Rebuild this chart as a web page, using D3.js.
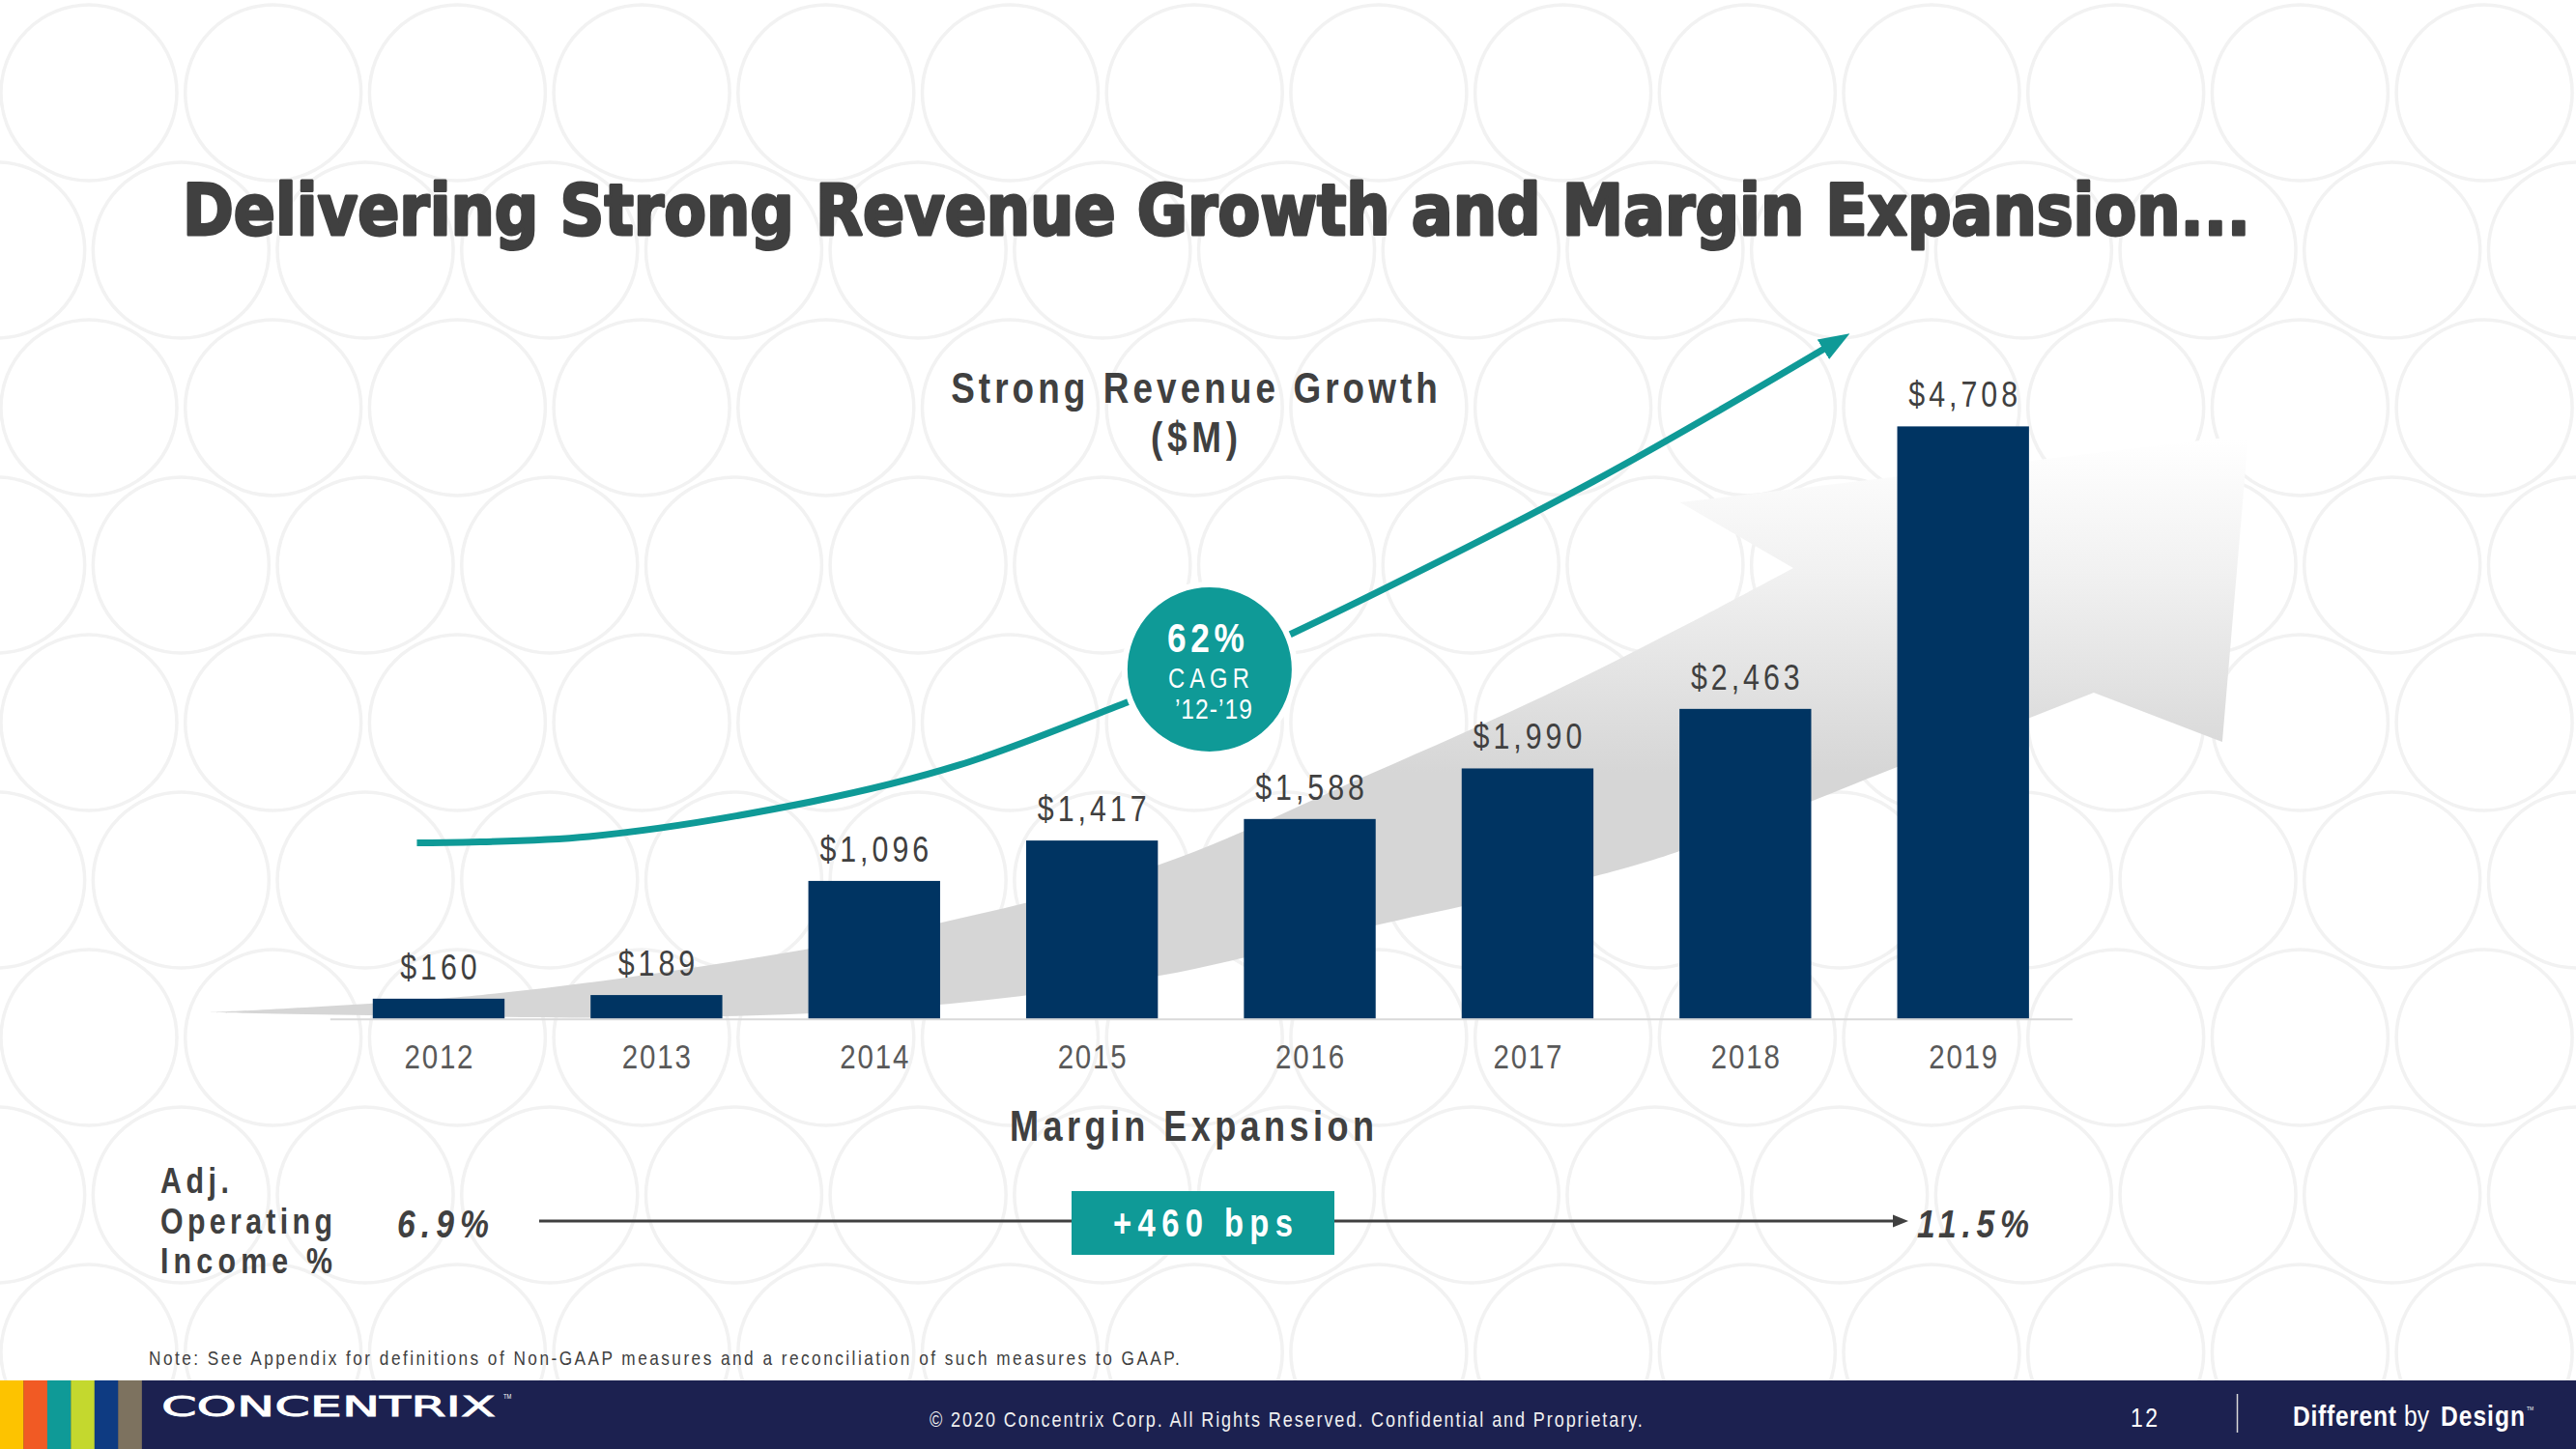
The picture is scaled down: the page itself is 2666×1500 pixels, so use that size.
<!DOCTYPE html>
<html><head><meta charset="utf-8">
<script src="https://cdn.jsdelivr.net/npm/d3@7"></script>
<style>html,body{margin:0;padding:0;background:#fff;overflow:hidden}svg{display:block}</style>
</head><body>
<svg id="c" width="2666" height="1500"></svg>
<script>
// ---------- data ----------
const years = ["2012","2013","2014","2015","2016","2017","2018","2019"];
const revenue = [160, 189, 1096, 1417, 1588, 1990, 2463, 4708];
const valueLabels = ["$160","$189","$1,096","$1,417","$1,588","$1,990","$2,463","$4,708"];
const pageTitle = "Delivering Strong Revenue Growth and Margin Expansion...";
const chartTitle = ["Strong Revenue Growth", "($M)"];
const cagrText = ["62%", "CAGR", "\u201912-\u201919"];
const marginTitle = "Margin Expansion";
const marginLabel = ["Adj.", "Operating", "Income %"];
const marginStart = 6.9, marginEnd = 11.5;
const noteText = "Note:  See Appendix for definitions of Non-GAAP measures and a reconciliation of such measures to GAAP.";
const footerText = "\u00A9 2020 Concentrix Corp. All Rights Reserved. Confidential and Proprietary.";
const pageNumber = "12";
// trend arrow, in data coordinates: [year index, $M]
const trendPoints = [[-0.10,1398],[0.69,1449],[1.71,1725],[2.39,2017],[3.15,2508],[3.54,2777],[3.91,3055],[5.30,4269],[6.48,5444]];
const cagrAnchorIndex = 5;
// background swoosh arrow outline, data coordinates [year index, $M]
const swooshUpper = [[-1.05,51],[0.20,190],[1.36,459],[2.31,766],[3.31,1226],[4.29,1955],[5.08,2569],[5.70,3106],[6.22,3583]];
const swooshHead = [[5.70,4104],[8.31,4641],[8.19,2200],[7.60,2592]];
const swooshLower = [[7.31,2394],[6.70,2003],[6.30,1727],[5.70,1334],[5.31,1134],[4.30,743],[3.31,343],[2.20,97],[1.09,13],[-1.05,51]];

// ---------- setup ----------
const W = 2666, H = 1500;
const svg = d3.select("#c");
const TEAL = "#0f9a97", NAVY = "#003462", DARK = "#404040";

function hasFont(name){
  const t = svg.append("text").attr("font-size",50).attr("font-family",`'${name}', monospace`).text("abcdefghijklmnop0123456789");
  const w1 = t.node().getComputedTextLength();
  t.attr("font-family","monospace");
  const w2 = t.node().getComputedTextLength();
  t.remove();
  return Math.abs(w1-w2) > 1;
}
const HAS_NARROW = hasFont("Liberation Sans Narrow");

function styleText(node, o){
  const s = d3.select(node);
  let fam, sx = 1;
  if (!o.family || o.family === "narrow"){
    if (HAS_NARROW) fam = "'Liberation Sans Narrow'"; else { fam = "'Liberation Sans'"; sx = 0.82; }
  } else fam = o.family;
  s.attr("font-family", fam).attr("font-size", o.size).attr("font-weight", o.weight||400)
   .attr("font-style", o.style||"normal").attr("fill", o.fill||DARK)
   .attr("text-anchor", o.anchor||"start").attr("letter-spacing", 0)
   .attr("x",0).attr("y",0).attr("dy",null);
  const n = s.text().length;
  let ls;
  if (o.width != null){ const nat = node.getComputedTextLength(); ls = (o.width/sx - nat)/Math.max(1,n-1); }
  else ls = (o.ls||0)/sx;
  s.attr("letter-spacing", ls);
  const a = o.anchor||"start";
  let shift = 0;
  if (a === "middle") shift = ls/2*sx; else if (a === "end") shift = ls*sx;
  s.attr("transform", `translate(${o.x+shift},${o.y}) scale(${sx},1)`);
  return s;
}
function label(parent, str, o){
  const t = parent.append("text").text(str);
  return styleText(t.node(), o);
}

// ---------- background pattern ----------
const bg = svg.append("g").attr("fill","none").attr("stroke","#f2f2f2").attr("stroke-width",3.5);
for (let r = 0; r < 9; r++){
  for (let k = -1; k < 15; k++){
    bg.append("circle").attr("cx", 92 + (r%2 ? 95.35 : 0) + k*190.7).attr("cy", 96 + r*163).attr("r", 91);
  }
}

// ---------- scales ----------
const x = d3.scaleBand().domain(years).range([341.3, 2144.4]).paddingInner(0.395).paddingOuter(0.1975);
const y = d3.scaleLinear().domain([0, 4708]).range([1054.7, 441.4]);
const xi = i => x(years[0]) + x.bandwidth()/2 + i*x.step();
const P = d => [xi(d[0]), y(d[1])];

// ---------- swoosh ----------
const defs = svg.append("defs");
const grad = defs.append("linearGradient").attr("id","sw").attr("gradientUnits","userSpaceOnUse")
  .attr("x1",0).attr("y1",455).attr("x2",0).attr("y2",800);
grad.append("stop").attr("offset",0).attr("stop-color","#ffffff");
grad.append("stop").attr("offset",0.4).attr("stop-color","#f1f1f1");
grad.append("stop").attr("offset",1).attr("stop-color","#d6d6d6");
const cr = d3.line().curve(d3.curveCatmullRom.alpha(0.5));
let dStr = cr(swooshUpper.map(P));
swooshHead.map(P).forEach(p => { dStr += `L${p[0]},${p[1]}`; });
dStr += cr(swooshLower.map(P)).replace(/^M/,"L") + "Z";
svg.append("path").attr("d", dStr).attr("fill","url(#sw)");

// ---------- bars ----------
svg.append("g").selectAll("rect").data(revenue).join("rect")
  .attr("x",(d,i)=>x(years[i])).attr("width",x.bandwidth())
  .attr("y",d=>y(d)).attr("height",d=>y(0)-y(d)).attr("fill",NAVY);

// axis
const ax = svg.append("g").attr("transform",`translate(0,${y(0)})`)
  .call(d3.axisBottom(x).tickSize(0).tickPadding(0));
ax.select(".domain").attr("stroke","#d9d9d9").attr("stroke-width",2);
ax.selectAll(".tick text").each(function(){
  styleText(this,{x:0,y:51,size:36,ls:1.8,anchor:"middle",fill:"#595959"});
});

// value labels
const vl = svg.append("g");
revenue.forEach((v,i)=>{
  label(vl, valueLabels[i], {x:x(years[i])+x.bandwidth()/2, y:y(v)-20, size:37, ls:4, anchor:"middle"});
});

// ---------- trend arrow ----------
const tp = trendPoints.map(P);
const pA = tp[tp.length-2], pB = tp[tp.length-1];
const len = Math.hypot(pB[0]-pA[0], pB[1]-pA[1]);
const ux = (pB[0]-pA[0])/len, uy = (pB[1]-pA[1])/len;
const tpShort = tp.slice(0,-1).concat([[pB[0]-16*ux, pB[1]-16*uy]]);
defs.append("marker").attr("id","ah").attr("markerUnits","userSpaceOnUse")
  .attr("viewBox","-16 -13 32 26").attr("refX",0).attr("refY",0)
  .attr("markerWidth",32).attr("markerHeight",26).attr("orient","auto")
  .append("path").attr("d","M16,0L-16,-12L-16,12Z").attr("fill",TEAL);
svg.append("path").attr("d", d3.line().curve(d3.curveCatmullRom.alpha(0.5))(tpShort))
  .attr("fill","none").attr("stroke",TEAL).attr("stroke-width",7).attr("marker-end","url(#ah)");

// CAGR bubble
const cc = tp[cagrAnchorIndex];
svg.append("circle").attr("cx",cc[0]).attr("cy",cc[1]).attr("r",88).attr("fill",TEAL).attr("stroke","#fff").attr("stroke-width",6);
const cg = svg.append("g");
label(cg, cagrText[0], {x:cc[0]-4, y:cc[1]-18, size:43, weight:700, width:80, anchor:"middle", fill:"#fff"});
label(cg, cagrText[1], {x:cc[0]-1, y:cc[1]+19, size:29, width:84, anchor:"middle", fill:"#fff"});
label(cg, cagrText[2], {x:cc[0]+4, y:cc[1]+51, size:30, width:80, anchor:"middle", fill:"#fff"});

// ---------- titles ----------
svg.append("text").attr("x",189).attr("y",243).attr("font-family","'DejaVu Sans', 'Liberation Sans', sans-serif")
  .attr("font-weight",700).attr("font-size",73).attr("fill",DARK)
  .attr("stroke",DARK).attr("stroke-width",3).attr("stroke-linejoin","round")
  .attr("textLength",2140).attr("lengthAdjust","spacingAndGlyphs").text(pageTitle);
label(svg, chartTitle[0], {x:1236, y:417, size:45, weight:700, width:504, anchor:"middle"});
label(svg, chartTitle[1], {x:1236, y:468, size:45, weight:700, width:90, anchor:"middle"});

// ---------- margin expansion ----------
label(svg, marginTitle, {x:1233.5, y:1181, size:44, weight:700, width:377, anchor:"middle"});
const mlW = [71,178,178];
marginLabel.forEach((t,i)=> label(svg, t, {x:166, y:1235+i*41.5, size:37, weight:700, width:mlW[i]}));
defs.append("marker").attr("id","ah2").attr("markerUnits","userSpaceOnUse")
  .attr("viewBox","-8 -7 16 14").attr("refX",0).attr("refY",0)
  .attr("markerWidth",16).attr("markerHeight",14).attr("orient","auto")
  .append("path").attr("d","M8,0L-8,-6.5L-8,6.5Z").attr("fill",DARK);
svg.append("line").attr("x1",558).attr("x2",1967).attr("y1",1264).attr("y2",1264)
  .attr("stroke",DARK).attr("stroke-width",3.2).attr("marker-end","url(#ah2)");
const fmt = d3.format(".1f");
label(svg, fmt(marginStart)+"%", {x:411, y:1281, size:41, weight:700, style:"italic", width:95});
label(svg, fmt(marginEnd)+"%", {x:1984, y:1281, size:41, weight:700, style:"italic", width:116});
svg.append("rect").attr("x",1109).attr("y",1233).attr("width",272).attr("height",66).attr("fill",TEAL);
label(svg, "+" + Math.round((marginEnd-marginStart)*100) + " bps", {x:1245, y:1280, size:40, weight:700, width:186, anchor:"middle", fill:"#fff"});

// note
label(svg, noteText, {x:154, y:1413, size:21, width:1070});

// ---------- footer ----------
svg.append("rect").attr("x",0).attr("y",1429).attr("width",W).attr("height",H-1429).attr("fill","#1c2150");
const stripes = ["#fdc300","#f15a24","#0f9a97","#c4d82e","#0e3b82","#7d725f"];
stripes.forEach((c,i)=> svg.append("rect").attr("x",i*24.45).attr("y",1429).attr("width",24.6).attr("height",H-1429).attr("fill",c));
svg.append("text").attr("x",167).attr("y",1466).attr("font-family","'DejaVu Sans', sans-serif")
  .attr("font-size",29).attr("fill","#fff").attr("stroke","#fff").attr("stroke-width",0.8)
  .attr("textLength",346).attr("lengthAdjust","spacingAndGlyphs").text("CONCENTRIX");
label(svg, "TM", {x:521, y:1448, size:7, fill:"#fff"});
label(svg, footerText, {x:962, y:1477, size:22, width:738, fill:"#f0f0f0"});
label(svg, pageNumber, {x:2205, y:1477, size:28, width:28, fill:"#fff"});
svg.append("line").attr("x1",2315.5).attr("x2",2315.5).attr("y1",1443).attr("y2",1483).attr("stroke","#d8d8d8").attr("stroke-width",1.5);
label(svg, "Different", {x:2373, y:1476, size:30, weight:700, width:107, fill:"#fff"});
label(svg, "by", {x:2488, y:1476, size:30, ls:0, fill:"#fff"});
label(svg, "Design", {x:2526, y:1476, size:30, weight:700, width:87, fill:"#fff"});
label(svg, "TM", {x:2615, y:1460, size:6, fill:"#fff"});
</script>
</body></html>
